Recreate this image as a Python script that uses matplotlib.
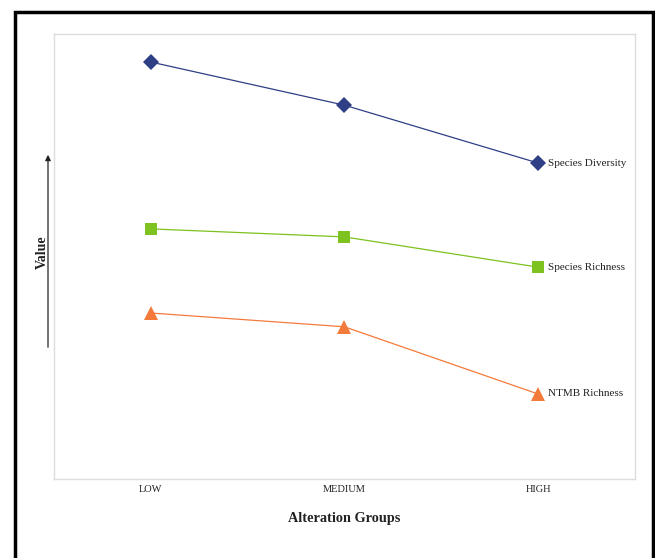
import matplotlib.pyplot as plt
from matplotlib.patches import Rectangle, FancyArrowPatch

groups = ['LOW', 'MEDIUM', 'HIGH']
species_diversity = [9.37, 8.40, 7.10]
species_richness = [5.62, 5.44, 4.76]
ntmb_richness = [3.73, 3.42, 1.91]

series = [
    ('Species Diversity', species_diversity, '#2e3f86', 'D', 8.5),
    ('Species Richness', species_richness, '#7dc21e', 's', 9),
    ('NTMB Richness', ntmb_richness, '#f47a3c', '^', 9.5),
]

plt.rcParams['font.family'] = ['Liberation Serif', 'DejaVu Serif']

fig = plt.figure(figsize=(6.55, 5.58), dpi=100)
ax = fig.add_axes([0.0824, 0.1416, 0.887, 0.7975])

x = list(range(len(groups)))
for name, vals, col, mk, ms in series:
    ax.plot(x, vals, color=col, lw=0.9, marker=mk, markersize=ms,
            markeredgewidth=0, zorder=3)
    ax.annotate(name, (x[-1], vals[-1]), xytext=(7, 0), textcoords='offset points',
                va='center', ha='left', fontsize=8, color='#222222')

ax.set_xlim(-0.5, 2.5)
ax.set_ylim(0, 10)
ax.set_xticks(x)
ax.set_xticklabels(groups, fontsize=7.5, color='#222222')
ax.set_yticks([])
ax.tick_params(axis='x', length=0, pad=4)
for s in ax.spines.values():
    s.set_color('#dddddd')
    s.set_linewidth(1.0)
ax.set_xlabel('Alteration Groups', fontsize=10.3, fontweight='bold', labelpad=13,
              color='#222222')

# y-axis arrow and label
arrow = FancyArrowPatch((48 / 655, 1 - 350 / 558), (48 / 655, 1 - 152 / 558),
                        transform=fig.transFigure, arrowstyle='-|>',
                        mutation_scale=8, lw=0.9, color='#222222')
fig.patches.append(arrow)
fig.text(42 / 655, 1 - 252 / 558, 'Value', rotation=90, ha='center', va='center',
         fontsize=10, fontweight='bold', color='#222222')

# outer frame
frame = Rectangle((15 / 655, -0.02), (653 - 15) / 655, 1 - 12 / 558 + 0.02,
                  transform=fig.transFigure, fill=False, lw=2.5, ec='black',
                  clip_on=False)
fig.patches.append(frame)

fig.savefig('out.png', dpi=100)
